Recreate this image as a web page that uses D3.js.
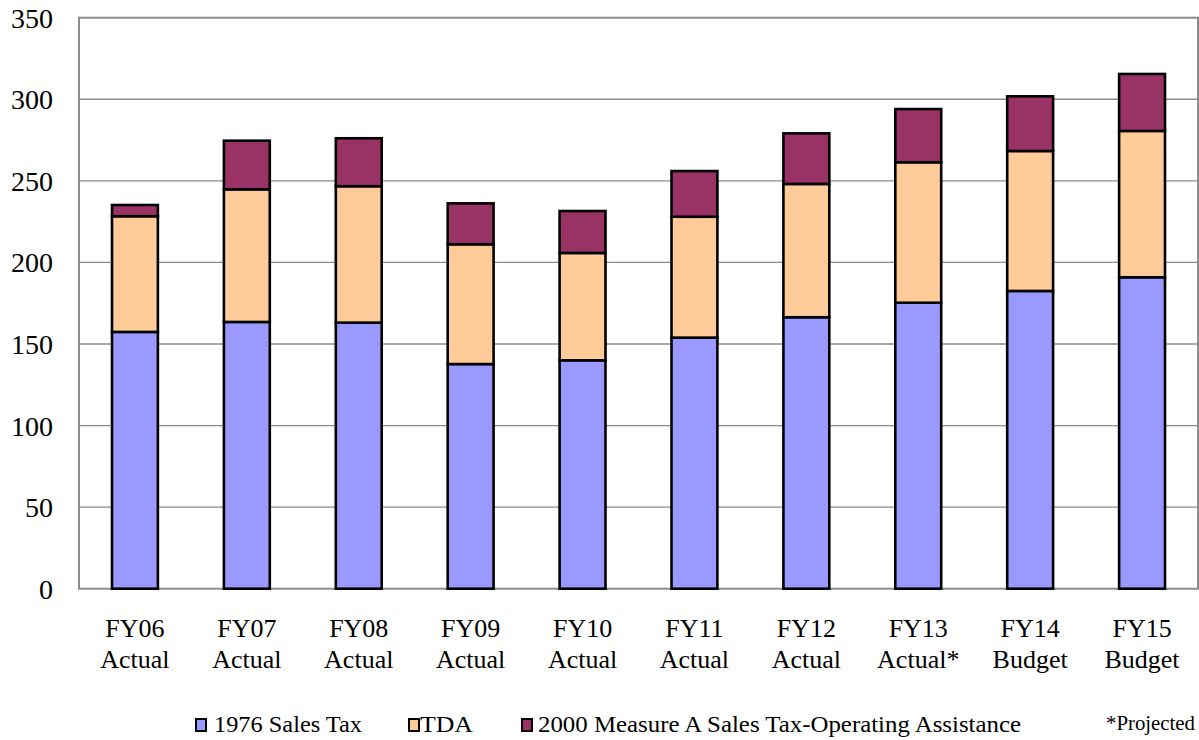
<!DOCTYPE html>
<html><head><meta charset="utf-8">
<script src="https://cdn.jsdelivr.net/npm/d3@7/dist/d3.min.js"></script>
</head><body style="margin:0;background:#fff"><svg id="c" width="1199" height="740"></svg>
<script>
const categories = ["FY06|Actual","FY07|Actual","FY08|Actual","FY09|Actual","FY10|Actual","FY11|Actual","FY12|Actual","FY13|Actual*","FY14|Budget","FY15|Budget"];
const salesTax1976 = [157.4,163.5,163.1,137.7,140.0,153.9,166.4,175.3,182.5,190.9];
const tda = [70.9,81.3,83.6,73.4,65.8,74.1,81.7,86.1,85.8,89.7];
const measureA2000 = [6.9,29.8,29.4,25.1,25.7,28.0,31.0,32.6,33.5,34.9];
const seriesNames = ["1976 Sales Tax","TDA","2000 Measure A Sales Tax-Operating Assistance"];
const yTicks = [0,50,100,150,200,250,300,350];

const FONT = "Liberation Serif";
const colors = ["#9999FF","#FFCC99","#993366"];
const svg = d3.select("#c");
const L = 79, R = 1198, T = 17.7, B = 588.7;
const x = d3.scaleBand().domain(categories).range([L,R]).paddingInner(0.59).paddingOuter(0.295);
const y = d3.scaleLinear().domain([0,350]).range([B,T]);

// gridlines
svg.append("g").selectAll("line").data(yTicks.filter(d=>d>0&&d<350)).join("line")
  .attr("x1",L).attr("x2",R).attr("y1",d=>y(d)).attr("y2",d=>y(d))
  .attr("stroke","#8c8c8c").attr("stroke-width",1.3);
// frame
svg.append("rect").attr("x",L).attr("y",T).attr("width",R-L).attr("height",B-T)
  .attr("fill","none").attr("stroke","#8c8c8c").attr("stroke-width",2);

// stacked data
const rows = categories.map((c,i)=>({cat:c, s0:salesTax1976[i], s1:tda[i], s2:measureA2000[i]}));
const stack = d3.stack().keys(["s0","s1","s2"])(rows);
svg.append("g").selectAll("g").data(stack).join("g").attr("fill",(d,i)=>colors[i])
  .selectAll("rect").data(d=>d).join("rect")
  .attr("x",d=>x(d.data.cat)).attr("width",x.bandwidth())
  .attr("y",d=>y(d[1])).attr("height",d=>y(d[0])-y(d[1]))
  .attr("stroke","#000").attr("stroke-width",2.6);

// y axis labels
const yAxis = d3.axisLeft(y).tickValues(yTicks).tickSize(0).tickPadding(26);
const yg = svg.append("g").attr("transform",`translate(${L},0)`).call(yAxis);
yg.select(".domain").remove();
yg.attr("font-family",FONT).attr("font-size",28);
yg.selectAll("text").style("font-family",FONT).style("font-size","28px").attr("fill","#000").attr("dy","0.34em");

// x axis labels
const xg = svg.append("g");
categories.forEach(c=>{
  const parts = c.split("|");
  const cx = x(c)+x.bandwidth()/2;
  const t = xg.append("text").attr("text-anchor","middle").style("font-family",FONT).style("font-size","26px").attr("fill","#000");
  t.append("tspan").attr("x",cx).attr("y",637).text(parts[0]);
  t.append("tspan").attr("x",cx).attr("y",668).text(parts[1]);
});

// legend
const legX = [196,409,522];
const legText = [214,420,538];
const legLen = [148,53,483];
seriesNames.forEach((n,i)=>{
  svg.append("rect").attr("x",legX[i]).attr("y",719).attr("width",10).attr("height",12)
    .attr("fill",colors[i]).attr("stroke","#000").attr("stroke-width",2);
  svg.append("text").attr("x",legText[i]).attr("y",732).style("font-family",FONT).style("font-size","23px")
    .attr("textLength",legLen[i]).attr("lengthAdjust","spacingAndGlyphs").text(n);
});
svg.append("text").attr("x",1106).attr("y",730).style("font-family",FONT).style("font-size","21px")
  .attr("textLength",89).attr("lengthAdjust","spacingAndGlyphs").text("*Projected");
</script></body></html>
